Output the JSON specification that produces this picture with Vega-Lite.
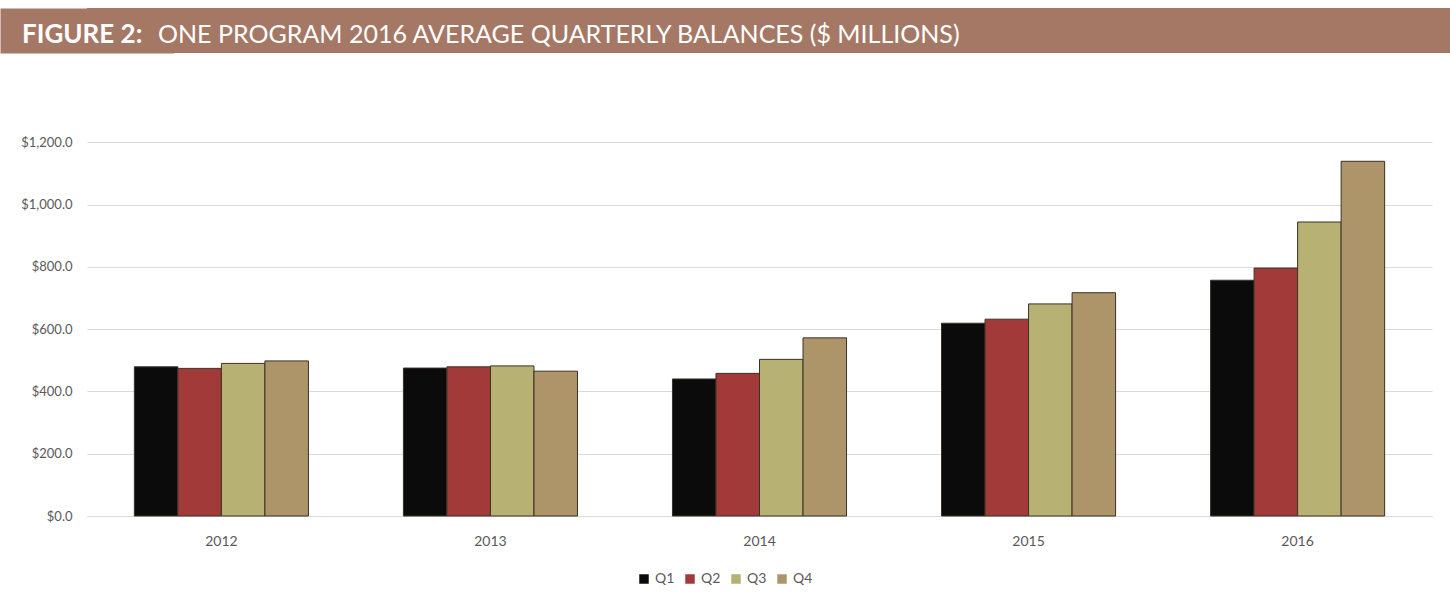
{
  "$schema": "https://vega.github.io/schema/vega-lite/v6.json",
  "padding": {"top": 8, "left": 0, "right": 0, "bottom": 0},
  "background": "white",
  "spacing": 27,
  "config": {
    "view": {"stroke": null},
    "font": "Lato",
    "concat": {"spacing": 0},
    "legend": {"layout": {"bottom": {"anchor": "middle"}}}
  },
  "datasets": {
    "balances": [
      {"year": "2012", "quarter": "Q1", "balance": 479},
      {"year": "2012", "quarter": "Q2", "balance": 474},
      {"year": "2012", "quarter": "Q3", "balance": 490},
      {"year": "2012", "quarter": "Q4", "balance": 498},
      {"year": "2013", "quarter": "Q1", "balance": 475},
      {"year": "2013", "quarter": "Q2", "balance": 479},
      {"year": "2013", "quarter": "Q3", "balance": 482},
      {"year": "2013", "quarter": "Q4", "balance": 465},
      {"year": "2014", "quarter": "Q1", "balance": 440},
      {"year": "2014", "quarter": "Q2", "balance": 458},
      {"year": "2014", "quarter": "Q3", "balance": 503},
      {"year": "2014", "quarter": "Q4", "balance": 572},
      {"year": "2015", "quarter": "Q1", "balance": 619},
      {"year": "2015", "quarter": "Q2", "balance": 632},
      {"year": "2015", "quarter": "Q3", "balance": 681},
      {"year": "2015", "quarter": "Q4", "balance": 717},
      {"year": "2016", "quarter": "Q1", "balance": 757},
      {"year": "2016", "quarter": "Q2", "balance": 796},
      {"year": "2016", "quarter": "Q3", "balance": 944},
      {"year": "2016", "quarter": "Q4", "balance": 1139}
    ]
  },
  "vconcat": [
    {
      "spacing": 0,
      "bounds": "flush",
      "hconcat": [
        {
          "width": 69,
          "height": 45,
          "view": {"fill": "#a57866", "stroke": null},
          "data": {"values": [{"v": 0}]},
          "mark": {"type": "text", "text": ""},
          "encoding": {
            "y": {
              "field": "v",
              "type": "quantitative",
              "axis": {
                "title": null,
                "labels": false,
                "ticks": false,
                "grid": false,
                "domain": true,
                "domainColor": "#a57866",
                "domainWidth": 174,
                "minExtent": 0,
                "maxExtent": 0
              }
            }
          },
          "title": {
            "text": "FIGURE 2:",
            "anchor": "start",
            "orient": "top",
            "offset": -40,
            "dx": -65,
            "color": "white",
            "font": "Lato",
            "fontSize": 26,
            "fontWeight": "bold"
          }
        },
        {
          "width": 1294,
          "height": 45,
          "view": {"fill": "#a57866", "stroke": null},
          "data": {"values": [{}]},
          "mark": {"type": "text", "text": ""},
          "encoding": {},
          "title": {
            "text": "ONE PROGRAM 2016 AVERAGE QUARTERLY BALANCES ($ MILLIONS)",
            "anchor": "start",
            "orient": "top",
            "offset": -40,
            "dx": 2,
            "color": "white",
            "font": "Lato",
            "fontSize": 25,
            "fontWeight": "normal"
          }
        }
      ]
    },
    {
      "width": 1345,
      "height": 436,
      "data": {"name": "balances"},
      "mark": {"type": "bar", "stroke": "#3b3226", "strokeWidth": 1},
      "encoding": {
        "x": {
          "field": "year",
          "type": "nominal",
          "scale": {"paddingInner": 0.353, "paddingOuter": 0.176},
          "axis": {
            "title": null,
            "labelAngle": 0,
            "ticks": false,
            "domain": true,
            "domainColor": "#d9d9d9",
            "labelColor": "#595959",
            "labelFontSize": 14,
            "labelPadding": 18
          }
        },
        "xOffset": {
          "field": "quarter",
          "type": "nominal",
          "scale": {"paddingInner": 0, "paddingOuter": 0}
        },
        "y": {
          "field": "balance",
          "type": "quantitative",
          "scale": {"domain": [0, 1400], "nice": false},
          "axis": {
            "title": null,
            "values": [0, 200, 400, 600, 800, 1000, 1200],
            "format": "$,.1f",
            "ticks": false,
            "domain": false,
            "gridColor": "#d9d9d9",
            "labelColor": "#595959",
            "labelFontSize": 13,
            "labelPadding": 15,
            "minExtent": 87,
            "maxExtent": 87
          }
        },
        "color": {
          "field": "quarter",
          "type": "nominal",
          "scale": {
            "domain": ["Q1", "Q2", "Q3", "Q4"],
            "range": ["#0b0b0b", "#a33a3a", "#b7b173", "#ae9569"]
          },
          "legend": {
            "title": null,
            "orient": "bottom",
            "direction": "horizontal",
            "symbolType": "square",
            "symbolSize": 90,
            "symbolStrokeWidth": 0,
            "labelColor": "#595959",
            "labelFontSize": 14,
            "columnPadding": 8,
            "offset": 24
          }
        }
      }
    }
  ]
}
